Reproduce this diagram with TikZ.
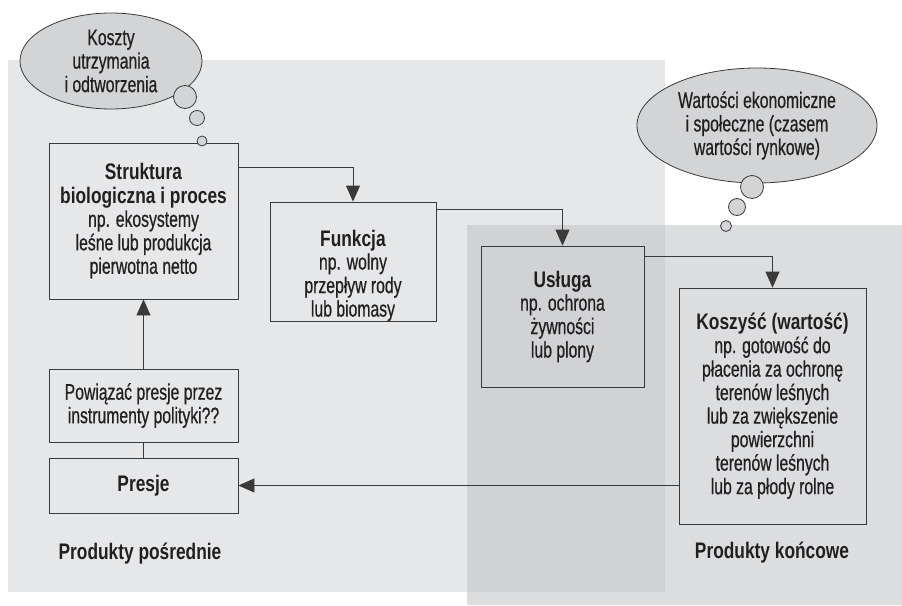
\documentclass[tikz,border=0pt]{standalone}
\usepackage{fontspec}
\setmainfont{Liberation Sans}[UprightFeatures={FakeStretch=0.70, FakeBold=0.6},
    BoldFeatures={FakeStretch=0.77}]
\usetikzlibrary{arrows.meta,shapes.geometric}
\definecolor{leftbg}{HTML}{E6E7E8}
\definecolor{rightbg}{HTML}{DCDDDF}
\definecolor{bothbg}{HTML}{D1D2D4}
\definecolor{bubblefill}{HTML}{D3D4D6}
\definecolor{inkline}{HTML}{3A3A3A}
\definecolor{inktext}{HTML}{231F20}

\begin{document}
\begin{tikzpicture}[x=1pt, y=-1pt,
    box/.style={draw=inkline, line width=0.8pt, align=center, inner sep=0pt,
        text=inktext, font=\fontsize{22.5}{23.5}\selectfont},
    txt/.style={align=center, inner sep=0pt, text=inktext,
        font=\fontsize{22.5}{23.5}\selectfont},
    bubble/.style={ellipse, draw=inkline, line width=0.8pt, fill=bubblefill,
        align=center, inner sep=0pt, text=inktext,
        font=\fontsize{22.5}{23.5}\selectfont},
    dot/.style={circle, draw=inkline, line width=0.8pt, fill=bubblefill, inner sep=0pt},
    arr/.style={draw=inkline, line width=0.8pt, -{Triangle[length=16pt, width=14pt]}},
    link/.style={draw=inkline, line width=0.8pt}]
    \useasboundingbox (0,0) rectangle (902,605);
    % shaded areas
    \fill[leftbg] (8,60) rectangle (665,592);
    \fill[rightbg] (467,225) rectangle (902,605);
    \fill[bothbg] (467,225) rectangle (665,592);

    % boxes
    \node[box, minimum width=189, minimum height=156] (struktura) at (143.5,221)
        {\textbf{Struktura}\\\textbf{biologiczna i proces}\\np. ekosystemy\\leśne lub produkcja\\pierwotna netto};
    \node[box, minimum width=166, minimum height=119] (funkcja) at (353,261.5) {};
    \node[txt] (funkcjatxt) at ([yshift=-14]funkcja.center)
        {\textbf{Funkcja}\\np. wolny\\przepływ rody\\lub biomasy};
    \node[box, minimum width=163, minimum height=141] (usluga) at (562.5,316.5)
        {\textbf{Usługa}\\np. ochrona\\żywności\\lub plony};
    \node[box, minimum width=187, minimum height=236] (koszysc) at (772.5,406)
        {\textbf{Koszyść (wartość)}\\np. gotowość do\\płacenia za ochronę\\terenów leśnych\\lub za zwiększenie\\powierzchni\\terenów leśnych\\lub za płody rolne};
    \node[box, minimum width=189, minimum height=73] (powiazac) at (143.5,405.5)
        {Powiązać presje przez\\instrumenty polityki??};
    \node[box, minimum width=189, minimum height=55] (presje) at (143.5,485.5)
        {\textbf{Presje}};

    % group labels
    \node[txt, font=\fontsize{22.5}{23.5}\selectfont\bfseries] (posrednie) at (140,554) {Produkty pośrednie};
    \node[txt, font=\fontsize{22.5}{23.5}\selectfont\bfseries] (koncowe) at (772,553) {Produkty końcowe};

    % connectors
    \draw[arr] ([yshift=-25]struktura.north east) -| (funkcja.north);
    \draw[arr] ([yshift=-8]funkcja.north east) -| (usluga.north);
    \draw[arr] ([yshift=-11]usluga.north east) -| (koszysc.north);
    \draw[arr] (presje.east -| koszysc.west) -- (presje.east);
    \draw[link] (presje.north) -- (powiazac.south);
    \draw[arr] (powiazac.north) -- (struktura.south);

    % thought bubbles
    \node[bubble, minimum width=182, minimum height=96] (koszty) at (111,61)
        {Koszty\\utrzymania\\i odtworzenia};
    \node[dot, minimum size=23] (kdot1) at (185,97) {};
    \node[dot, minimum size=15] (kdot2) at (197,118) {};
    \node[dot, minimum size=10] (kdot3) at (202,141) {};
    \node[bubble, minimum width=240, minimum height=115] (wartosci) at (757,125.5)
        {Wartości ekonomiczne\\i społeczne (czasem\\wartości rynkowe)};
    \node[dot, minimum size=23] (wdot1) at (752,187) {};
    \node[dot, minimum size=17] (wdot2) at (737,207) {};
    \node[dot, minimum size=11] (wdot3) at (726,226) {};
\end{tikzpicture}
\end{document}
